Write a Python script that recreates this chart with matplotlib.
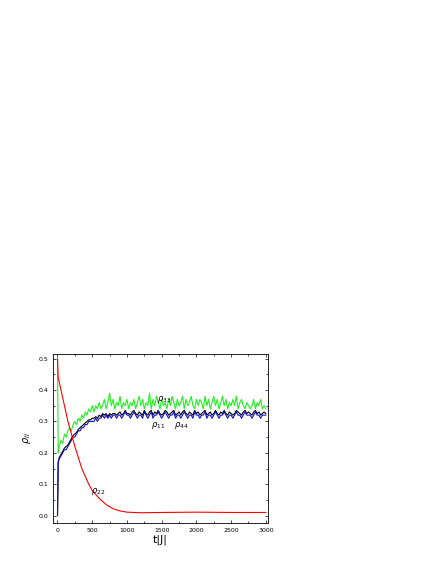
import numpy as np
import matplotlib
matplotlib.use("Agg")
import matplotlib.pyplot as plt
from matplotlib.ticker import MultipleLocator

t_red = [0, 10, 50, 100, 150, 200, 250, 300, 350, 400, 450, 500, 600, 700, 800, 900, 1000, 1200, 1500, 2000, 2500, 3000]
rho22 = [0.5, 0.44, 0.40, 0.35, 0.30, 0.26, 0.22, 0.185, 0.15, 0.125, 0.10, 0.08, 0.055, 0.035, 0.022, 0.015, 0.011, 0.009, 0.010, 0.011, 0.010, 0.010]

t_noisy = [0, 10] + list(range(25, 3001, 25))
rho33 = [0.50, 0.20,
 0.22,0.24,0.23,0.26,0.25,0.27,0.28,0.27,0.29,0.30,
 0.29,0.31,0.30,0.32,0.31,0.33,0.32,0.34,0.33,0.35,
 0.33,0.35,0.34,0.36,0.34,0.35,0.37,0.34,0.36,0.39,
 0.35,0.37,0.34,0.36,0.35,0.38,0.34,0.36,0.35,0.37,
 0.34,0.36,0.35,0.37,0.34,0.36,0.38,0.35,0.37,0.34,
 0.36,0.35,0.39,0.34,0.37,0.35,0.38,0.36,0.34,0.37,
 0.35,0.36,0.34,0.37,0.35,0.38,0.36,0.34,0.37,0.35,
 0.36,0.38,0.34,0.37,0.35,0.36,0.38,0.35,0.34,0.37,
 0.35,0.37,0.36,0.34,0.38,0.35,0.37,0.34,0.36,0.38,
 0.35,0.37,0.34,0.36,0.38,0.35,0.37,0.34,0.36,0.35,
 0.37,0.35,0.38,0.34,0.36,0.37,0.35,0.34,0.36,0.35,
 0.34,0.35,0.37,0.34,0.36,0.35,0.37,0.34,0.35,0.34]
rho11 = [0.0, 0.17,
 0.18,0.19,0.20,0.21,0.21,0.22,0.23,0.24,0.25,0.25,
 0.26,0.27,0.27,0.28,0.28,0.29,0.29,0.30,0.30,0.30,
 0.30,0.31,0.30,0.31,0.31,0.32,0.31,0.32,0.31,0.32,
 0.31,0.32,0.32,0.31,0.32,0.32,0.31,0.32,0.33,0.32,
 0.32,0.31,0.32,0.33,0.32,0.31,0.32,0.32,0.31,0.33,
 0.32,0.31,0.32,0.33,0.31,0.32,0.32,0.33,0.32,0.31,
 0.32,0.33,0.32,0.31,0.32,0.32,0.33,0.31,0.32,0.32,
 0.31,0.32,0.33,0.32,0.31,0.32,0.32,0.31,0.33,0.32,
 0.32,0.31,0.32,0.32,0.33,0.31,0.32,0.32,0.31,0.32,
 0.33,0.32,0.31,0.32,0.32,0.33,0.32,0.31,0.32,0.32,
 0.31,0.32,0.33,0.32,0.32,0.31,0.32,0.33,0.32,0.32,
 0.32,0.31,0.32,0.33,0.32,0.32,0.31,0.32,0.32,0.32]
rho44 = [0.0, 0.17,
 0.185,0.195,0.205,0.215,0.22,0.225,0.235,0.245,0.255,0.26,
 0.265,0.275,0.28,0.285,0.29,0.295,0.30,0.305,0.305,0.31,
 0.31,0.315,0.31,0.32,0.315,0.325,0.32,0.325,0.315,0.325,
 0.32,0.325,0.325,0.32,0.325,0.33,0.32,0.325,0.335,0.325,
 0.325,0.32,0.33,0.335,0.325,0.32,0.33,0.325,0.32,0.335,
 0.325,0.32,0.33,0.335,0.32,0.33,0.325,0.335,0.325,0.32,
 0.325,0.335,0.33,0.32,0.325,0.33,0.335,0.32,0.325,0.33,
 0.32,0.33,0.335,0.325,0.32,0.33,0.325,0.32,0.335,0.325,
 0.33,0.32,0.325,0.33,0.335,0.32,0.325,0.33,0.32,0.325,
 0.335,0.325,0.32,0.33,0.325,0.335,0.325,0.32,0.33,0.325,
 0.32,0.325,0.335,0.33,0.325,0.32,0.33,0.335,0.325,0.33,
 0.325,0.32,0.33,0.335,0.325,0.33,0.32,0.325,0.33,0.325]

fig = plt.figure(figsize=(4.36, 5.64), dpi=100)
ax = fig.add_axes([0.122, 0.073, 0.493, 0.299])
ax.plot(t_noisy, rho33, color="#22ee22", lw=0.8)
ax.plot(t_noisy, rho44, color="black", lw=0.8)
ax.plot(t_noisy, rho11, color="#1010cc", lw=0.8)
ax.plot(t_red, rho22, color="red", lw=0.8)
ax.set_xlim(-62, 3033)
ax.set_ylim(-0.023, 0.514)
ax.xaxis.set_major_locator(MultipleLocator(500))
ax.xaxis.set_minor_locator(MultipleLocator(250))
ax.yaxis.set_major_locator(MultipleLocator(0.1))
ax.yaxis.set_minor_locator(MultipleLocator(0.05))
ax.tick_params(which="both", direction="in", top=True, right=True, labelsize=4.5, width=0.5)
ax.tick_params(which="major", length=2.5)
ax.tick_params(which="minor", length=1.5)
for s in ax.spines.values():
    s.set_linewidth(0.6)
ax.set_yticklabels(["%.1f" % v for v in ax.get_yticks()])
ax.set_xlabel("t|J|", fontsize=8, labelpad=1)
ax.set_ylabel(r"$\rho_{ii}$", fontsize=7, labelpad=4)
ax.text(1430, 0.365, r"$\rho_{33}$", fontsize=6)
ax.text(1340, 0.282, r"$\rho_{11}$", fontsize=6)
ax.text(1680, 0.282, r"$\rho_{44}$", fontsize=6)
ax.text(480, 0.072, r"$\rho_{22}$", fontsize=6)
fig.savefig("out.png", dpi=100)
